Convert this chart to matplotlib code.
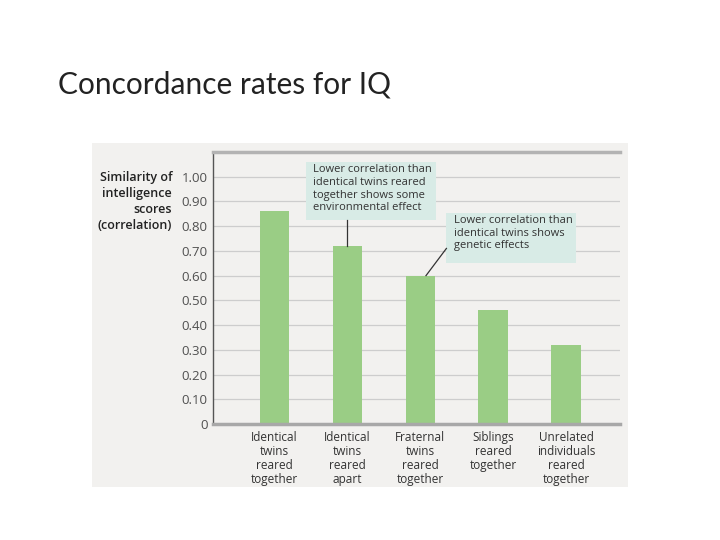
import numpy as np
import matplotlib.pyplot as plt
from matplotlib.patches import Rectangle

categories = ["Identical\ntwins\nreared\ntogether", "Identical\ntwins\nreared\napart",
              "Fraternal\ntwins\nreared\ntogether", "Siblings\nreared\ntogether",
              "Unrelated\nindividuals\nreared\ntogether"]
correlation = [0.86, 0.72, 0.60, 0.46, 0.32]
yticks = [0, 0.1, 0.2, 0.3, 0.4, 0.5, 0.6, 0.7, 0.8, 0.9, 1.0]
ytick_labels = ["0", "0.10", "0.20", "0.30", "0.40", "0.50", "0.60", "0.70", "0.80", "0.90", "1.00"]
note_env = "Lower correlation than\nidentical twins reared\ntogether shows some\nenvironmental effect"
note_gen = "Lower correlation than\nidentical twins shows\ngenetic effects"

plt.rcParams['font.family'] = ['Open Sans', 'DejaVu Sans']
W, H = 720, 540
fig = plt.figure(figsize=(7.2, 5.4), dpi=100)
fig.patch.set_facecolor('white')

# slide title
fig.text(58/W, 1 - 93/H, "Concordance rates for IQ", fontsize=21.5, family=['Lato', 'DejaVu Sans'],
         fontweight='normal', color='#222222', ha='left', va='baseline')

# grey panel behind the chart
fig.patches.append(Rectangle((92/W, 1 - 487/H), (628-92)/W, (487-143)/H,
                             transform=fig.transFigure, facecolor='#f2f1ef', edgecolor='none', zorder=-1))

ax = fig.add_axes([213/W, 1 - 424/H, (620-213)/W, (424-152)/H])
ax.set_facecolor('none')
x = np.arange(len(categories))
ax.bar(x, correlation, width=0.4, color='#9acd85', zorder=3)
ax.set_xlim(-0.84, 4.74)
ax.set_ylim(0, 1.10)
ax.set_yticks(yticks)
ax.set_yticklabels(ytick_labels, fontsize=9.5, color='#505050')
ax.set_xticks(x)
ax.set_xticklabels(categories, fontsize=8.5, color='#333333', linespacing=1.1)
ax.tick_params(axis='both', length=0, pad=5)
ax.tick_params(axis='y', pad=4)
for t in yticks[1:]:
    ax.axhline(t, color='#cdcdcd', lw=0.9, zorder=1)
ax.spines['right'].set_visible(False)
ax.spines['top'].set_color('#b3b3b3')
ax.spines['top'].set_linewidth(2.5)
ax.spines['bottom'].set_color('#a8a8a8')
ax.spines['bottom'].set_linewidth(2.5)
ax.spines['bottom'].set_zorder(4)
ax.spines['left'].set_color('#555555')
ax.spines['left'].set_linewidth(1)

# y axis title
fig.text(172/W, 1 - 171/H, "Similarity of\nintelligence\nscores\n(correlation)", fontsize=9,
         fontweight='semibold', color='#222222', ha='right', va='top', linespacing=1.3)

# annotation boxes
ax.add_patch(Rectangle((0.44, 0.825), 1.78, 0.235, facecolor='#d8ebe6', edgecolor='none', zorder=5))
ax.text(0.53, 1.05, note_env, fontsize=8, color='#333333', va='top', ha='left',
        linespacing=1.2, zorder=6)
ax.plot([1, 1], [0.825, correlation[1]], color='#333333', lw=0.9, zorder=5)

ax.add_patch(Rectangle((2.36, 0.65), 1.78, 0.205, facecolor='#d8ebe6', edgecolor='none', zorder=5))
ax.text(2.46, 0.845, note_gen, fontsize=8, color='#333333', va='top', ha='left',
        linespacing=1.2, zorder=6)
ax.plot([2.36, 2.08], [0.71, correlation[2]], color='#333333', lw=0.9, zorder=5)

fig.savefig('out.png', dpi=100)
